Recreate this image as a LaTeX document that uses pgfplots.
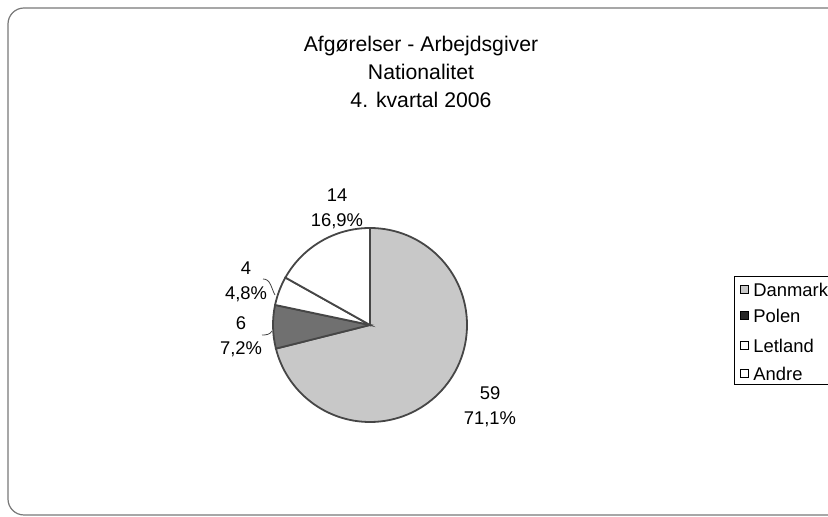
\documentclass[border=0pt]{standalone}
\usepackage{pgfplots}
\pgfplotsset{compat=1.18}
\usepackage{fontspec}
\setmainfont{Liberation Sans}
\definecolor{danmark}{RGB}{200,200,200}
\definecolor{polen}{RGB}{112,112,112}
\definecolor{edge}{RGB}{70,70,70}
\definecolor{frame}{RGB}{120,120,120}

\begin{document}
\begin{tikzpicture}
% slice values (antal afgoerelser)
\def\vDK{59}\def\vPL{6}\def\vLV{4}\def\vAN{14}
\pgfmathsetmacro\tot{\vDK+\vPL+\vLV+\vAN}
\pgfmathsetmacro\aA{90}
\pgfmathsetmacro\aB{\aA-360*(\vDK/\tot)}
\pgfmathsetmacro\aC{\aB-360*(\vPL/\tot)}
\pgfmathsetmacro\aD{\aC-360*(\vLV/\tot)}
\pgfmathsetmacro\aE{\aD-360*(\vAN/\tot)}
\def\R{48.5pt}
\begin{axis}[
  x=0.5pt, y=0.5pt,
  xmin=0, xmax=828, ymin=0, ymax=517,
  hide axis, clip=false,
  font=\fontsize{9.2}{12.5}\selectfont,
]
% frame
\draw[frame, line width=0.6pt, rounded corners=8pt]
  (axis cs:860,509) -- (axis cs:8,509) -- (axis cs:8,2) -- (axis cs:860,2);
% pie
\filldraw[fill=danmark, draw=edge, line width=0.9pt]
  (axis cs:370,192) -- ++(\aA:\R) arc[start angle=\aA, end angle=\aB, radius=\R] -- cycle;
\filldraw[fill=polen, draw=edge, line width=0.9pt]
  (axis cs:370,192) -- ++(\aB:\R) arc[start angle=\aB, end angle=\aC, radius=\R] -- cycle;
\filldraw[fill=white, draw=edge, line width=0.9pt]
  (axis cs:370,192) -- ++(\aC:\R) arc[start angle=\aC, end angle=\aD, radius=\R] -- cycle;
\filldraw[fill=white, draw=edge, line width=0.9pt]
  (axis cs:370,192) -- ++(\aD:\R) arc[start angle=\aD, end angle=\aE, radius=\R] -- cycle;
% data labels
\node[align=center] at (axis cs:337,308) {14\\16,9\%};
\node[align=center] at (axis cs:246,235) {4\\4,8\%};
\node[align=center] at (axis cs:241,180) {6\\7,2\%};
\node[align=center] at (axis cs:490,110) {59\\71,1\%};
% leader lines
\draw[edge, line width=0.4pt] (axis cs:263,238) to[out=0,in=120] (axis cs:275,222);
\draw[edge, line width=0.4pt] (axis cs:262,182) to[out=0,in=-120] (axis cs:272,186);
% title
\node[align=center, font=\fontsize{10.6}{13.8}\selectfont] at (axis cs:421,445)
  {Afgørelser - Arbejdsgiver\\Nationalitet\\4. kvartal 2006};
% legend
\draw[black, line width=0.5pt] (axis cs:870,240) -- (axis cs:734,240) -- (axis cs:734,132) -- (axis cs:870,132);
\filldraw[fill=danmark, draw=black, line width=0.5pt] (axis cs:740,223) rectangle (axis cs:748,231);
\filldraw[fill=black!85, draw=black, line width=0.5pt] (axis cs:740,197) rectangle (axis cs:748,205);
\filldraw[fill=white, draw=black, line width=0.5pt] (axis cs:740,167) rectangle (axis cs:748,175);
\filldraw[fill=white, draw=black, line width=0.5pt] (axis cs:740,139) rectangle (axis cs:748,147);
\begin{scope}[every node/.style={anchor=west, inner sep=0pt}]
\node at (axis cs:753,227) {Danmark};
\node at (axis cs:753,201) {Polen};
\node at (axis cs:753,171) {Letland};
\node at (axis cs:753,143) {Andre};
\end{scope}
\end{axis}
\pgfresetboundingbox
\path (0,0) rectangle (414pt,258.5pt);
\end{tikzpicture}
\end{document}
